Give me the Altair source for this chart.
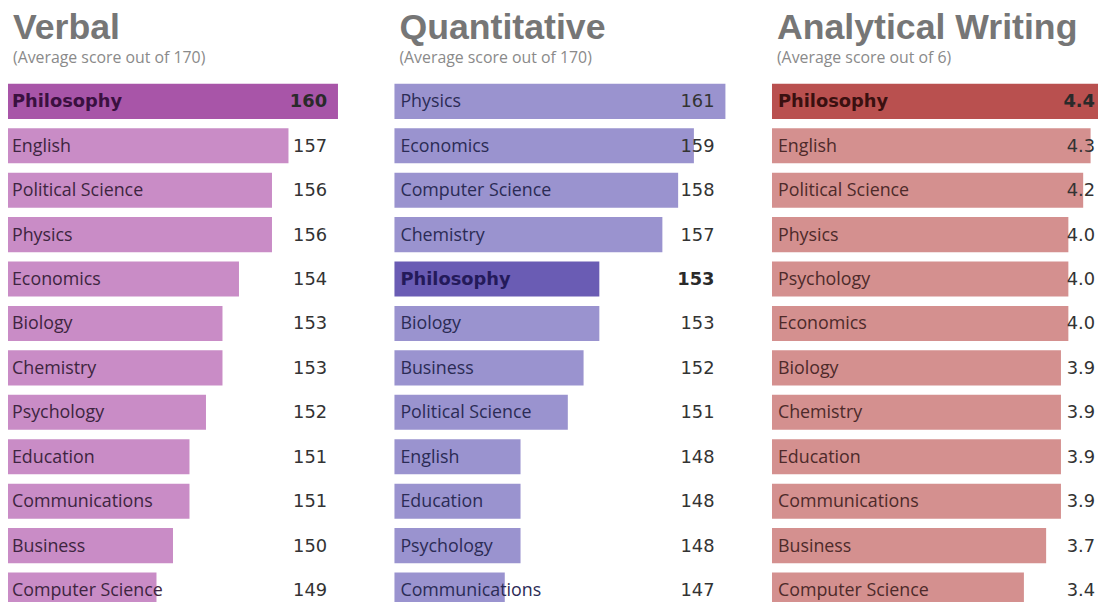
import altair as alt
import pandas as pd

# ---- data ----
verbal_subjects = ["Philosophy", "English", "Political Science", "Physics", "Economics", "Biology",
                   "Chemistry", "Psychology", "Education", "Communications", "Business", "Computer Science"]
verbal_scores = [160, 157, 156, 156, 154, 153, 153, 152, 151, 151, 150, 149]

quant_subjects = ["Physics", "Economics", "Computer Science", "Chemistry", "Philosophy", "Biology",
                  "Business", "Political Science", "English", "Education", "Psychology", "Communications"]
quant_scores = [161, 159, 158, 157, 153, 153, 152, 151, 148, 148, 148, 147]

writing_subjects = ["Philosophy", "English", "Political Science", "Physics", "Psychology", "Economics",
                    "Biology", "Chemistry", "Education", "Communications", "Business", "Computer Science"]
writing_scores = [4.4, 4.3, 4.2, 4.0, 4.0, 4.0, 3.9, 3.9, 3.9, 3.9, 3.7, 3.4]

titles = ["Verbal", "Quantitative", "Analytical Writing"]
subtitles = ["(Average score out of 170)", "(Average score out of 170)", "(Average score out of 6)"]
highlight = "Philosophy"

PLOT_H = 538


def panel(subjects, scores, title, subtitle, domain, bar_range, width,
          light, dark, label_color, bold_color, fmt, label_x, value_x):
    df = pd.DataFrame({"subject": subjects, "score": scores, "order": list(range(len(subjects)))})
    base = alt.Chart(df).encode(
        y=alt.Y("order:O", axis=None,
                scale=alt.Scale(paddingInner=0.21, paddingOuter=0.105))
    )
    xscale = alt.Scale(domain=domain, range=[0, bar_range], zero=False, nice=False)
    bars = base.mark_bar().encode(
        x=alt.X("score:Q", scale=xscale, axis=None),
        x2=alt.datum(domain[0]),
        color=alt.condition(alt.datum.subject == highlight, alt.value(dark), alt.value(light)),
    )
    names = base.mark_text(align="left", baseline="middle", font="Open Sans", fontSize=18,
                           color=label_color, dy=1).encode(
        x=alt.value(label_x), text="subject:N"
    ).transform_filter(alt.datum.subject != highlight)
    names_b = base.mark_text(align="left", baseline="middle", font="DejaVu Sans", fontWeight="bold",
                             fontSize=18, color=bold_color, dy=1).encode(
        x=alt.value(label_x), text="subject:N"
    ).transform_filter(alt.datum.subject == highlight)
    vals = base.mark_text(align="right", baseline="middle", font="DejaVu Sans", fontSize=18,
                          color="#333333", dy=1).encode(
        x=alt.value(value_x), text=alt.Text("score:Q", format=fmt)
    ).transform_filter(alt.datum.subject != highlight)
    vals_b = base.mark_text(align="right", baseline="middle", font="DejaVu Sans", fontWeight="bold",
                            fontSize=18, color="#2a2a2a", dy=1).encode(
        x=alt.value(value_x), text=alt.Text("score:Q", format=fmt)
    ).transform_filter(alt.datum.subject == highlight)
    return alt.layer(bars, names, names_b, vals, vals_b).properties(
        width=width, height=PLOT_H,
        title=alt.TitleParams(
            text=title, subtitle=subtitle, anchor="start", dx=5,
            font="Liberation Sans", fontSize=36, fontWeight="bold", color="#767676",
            subtitleFont="Open Sans", subtitleFontSize=16, subtitleColor="#8a8a8a",
            subtitlePadding=3, offset=12,
        ),
    )


p1 = panel(verbal_subjects, verbal_scores, titles[0], subtitles[0], [140, 160], 333, 390,
           "#c98cc6", "#a855a8", "#3d2540", "#3a1040", "d", 4, 322)
p2 = panel(quant_subjects, quant_scores, titles[1], subtitles[1], [140, 161], 334, 381,
           "#9a93cf", "#6a5cb4", "#2b2b55", "#241a5a", "d", 6, 323)
p3 = panel(writing_subjects, writing_scores, titles[2], subtitles[2], [0, 4.4], 329, 327,
           "#d4908f", "#b9504f", "#4d2a2a", "#3a1010", ".1f", 6, 326)

chart = alt.hconcat(p1, p2, p3, spacing=0).properties(
    padding={"top": 0, "left": 0, "right": 0, "bottom": 0},
    background="white",
).configure_view(stroke=None)

chart.save("out.html", embed_options={"renderer": "svg", "actions": False})
